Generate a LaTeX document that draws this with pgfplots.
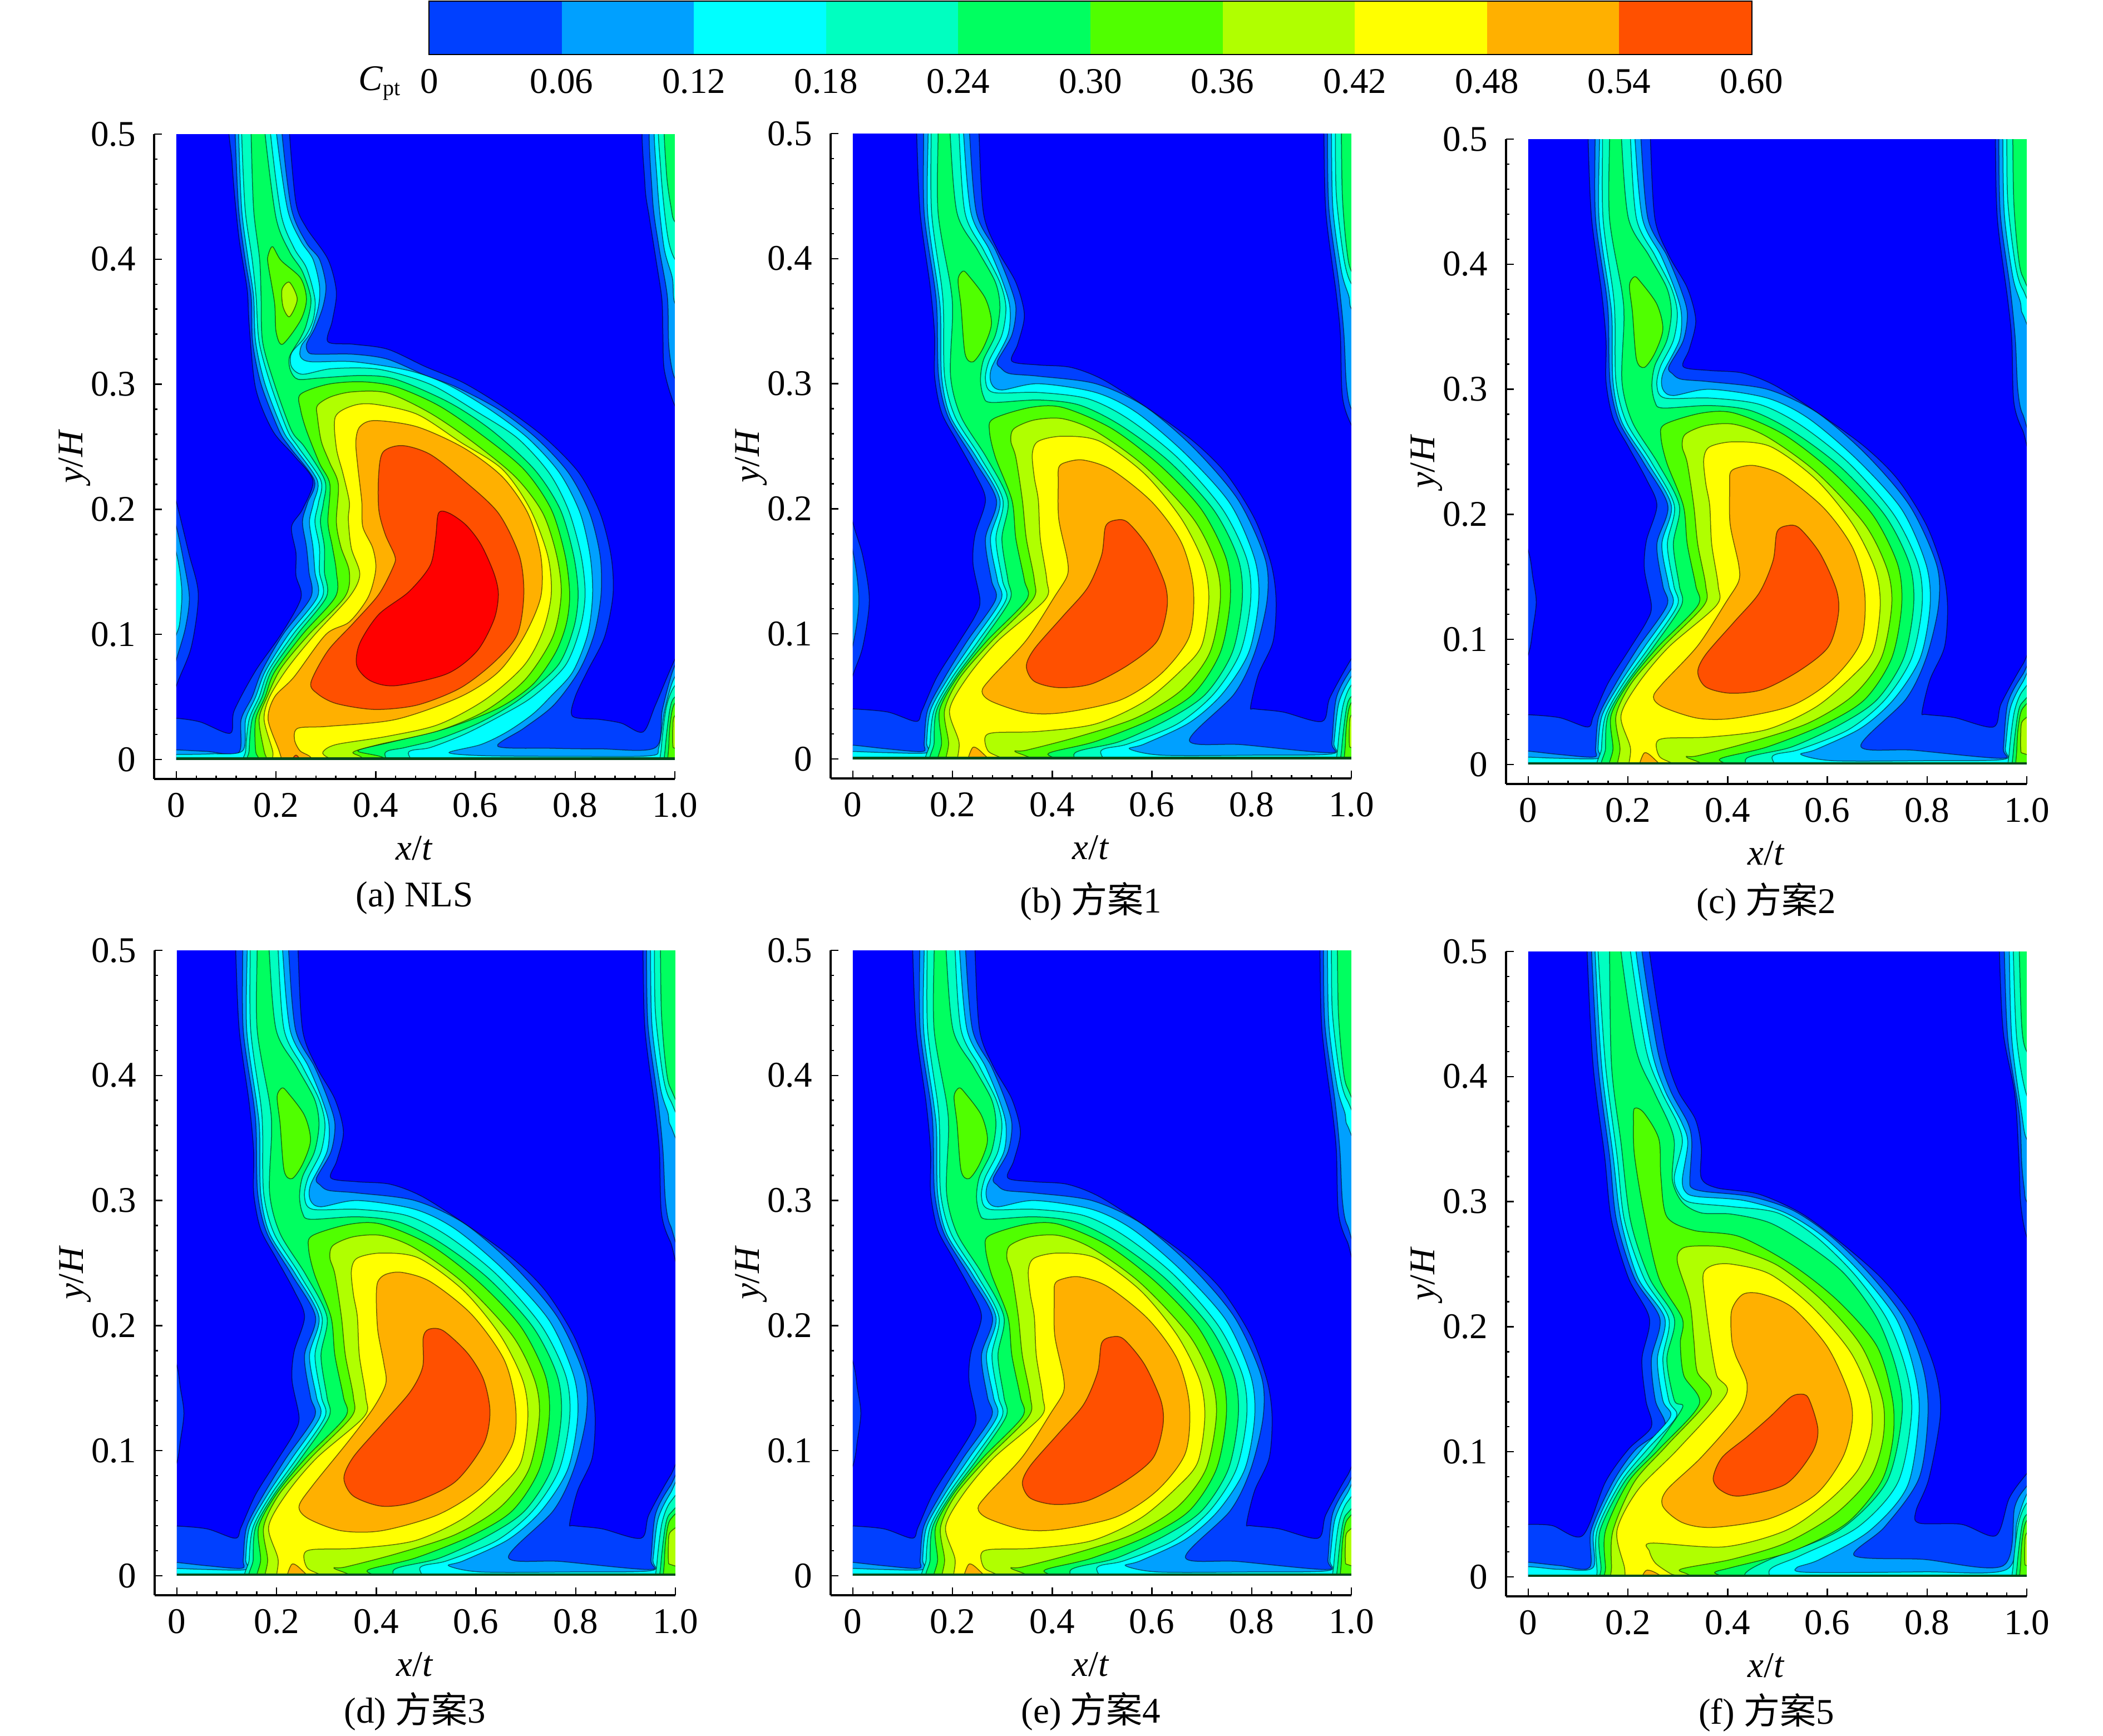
\documentclass[border=0pt]{standalone}
\usepackage{fontspec}
\usepackage{pgfplots}
\pgfplotsset{compat=1.18}
\setmainfont{Liberation Serif}
\newfontfamily\cjk{Noto Sans CJK SC}
\newcommand\fz{\fontsize{13}{15}\selectfont}
\definecolor{bg}{HTML}{0000FF}
\definecolor{c0}{HTML}{0040FF}
\definecolor{c1}{HTML}{00A0FF}
\definecolor{c2}{HTML}{00FFFF}
\definecolor{c3}{HTML}{00FFC0}
\definecolor{c4}{HTML}{00FF60}
\definecolor{c5}{HTML}{50FF00}
\definecolor{c6}{HTML}{B0FF00}
\definecolor{c7}{HTML}{FFFF00}
\definecolor{c8}{HTML}{FFB000}
\definecolor{c9}{HTML}{FF5000}
\definecolor{c10}{HTML}{FF0000}
\definecolor{wall}{HTML}{064A1C}
\pgfplotsset{lv/.style={fill=#1,draw=black,draw opacity=.55,line width=.3pt,smooth cycle,tension=.5,mark=none}}
\newcommand\poly[2]{\addplot[lv=#1] coordinates {#2};}
% ---- lobes at the right edge, near the wall
\newcommand\rlobes{%
\poly{c3}{(1.03,.065)(1,.059)(.983,.042)(.973,.01)(.973,-.01)(1.03,-.01)}
\poly{c4}{(1.03,.055)(1,.05)(.99,.04)(.981,.01)(.981,-.01)(1.03,-.01)}
\poly{c5}{(1.03,.05)(1,.045)(.991,.03)(.988,.012)(.988,-.01)(1.03,-.01)}
\poly{c6}{(1.03,.04)(1,.035)(.996,.025)(.996,.012)(1,.009)(1.03,.009)}
}
\newcommand\strip{\addplot[fill=wall,draw=none,sharp plot] coordinates {(-.03,-.03)(1.03,-.03)(1.03,.0018)(-.03,.0018)} --cycle;}
% ---- panel (a)
\newcommand\layersA{%
\poly{c0}{(.112,.52)(.112,.476)(.125,.419)(.142,.376)(.146,.348)(.159,.297)(.193,.263)(.236,.243)(.274,.223)(.253,.20)(.231,.186)(.24,.165)(.24,.147)(.25,.129)(.21,.10)(.159,.071)(.116,.039)(.108,.021)(.048,.030)(0,.033)(-.03,.033)(-.03,-.03)(.35,-.03)(.7,-.03)(1.03,-.03)(1.03,.10)(1,.08)(.961,.0435)(.936,.022)(.893,.029)(.85,.032)(.795,.0345)(.80,.05)(.825,.071)(.859,.098)(.876,.132)(.872,.163)(.85,.197)(.808,.229)(.74,.257)(.663,.28)(.577,.301)(.50,.314)(.424,.328)(.355,.332)(.304,.334)(.313,.351)(.321,.374)(.304,.40)(.261,.425)(.24,.445)(.227,.50)(.227,.52)}
\poly{c0}{(1.03,.52)(.94,.52)(.94,.46)(.949,.433)(.962,.40)(.974,.368)(.976,.34)(.979,.311)(1.0,.283)(1.03,.27)}
\poly{c0}{(-.03,.25)(0,.206)(.025,.165)(.044,.132)(.03,.09)(0,.059)(-.03,.02)}
\poly{c1}{(.118,.52)(.118,.5)(.125,.44)(.138,.40)(.15,.37)(.153,.334)(.17,.30)(.206,.263)(.227,.25)(.277,.223)(.263,.205)(.253,.19)(.261,.17)(.266,.15)(.27,.13)(.214,.10)(.172,.071)(.152,.05)(.13,.032)(.125,.0055)(.06,.0065)(0,.0077)(-.03,.0077)(-.03,-.03)(.35,-.03)(.7,-.03)(1.03,-.03)(1.03,.085)(1,.075)(.975,.04)(.961,.0095)(.85,.0085)(.75,.009)(.645,.0105)(.697,.025)(.757,.0435)(.808,.071)(.838,.10)(.852,.132)(.85,.163)(.829,.197)(.787,.229)(.722,.257)(.646,.28)(.56,.298)(.50,.307)(.424,.32)(.355,.324)(.287,.324)(.266,.325)(.261,.332)(.278,.345)(.294,.362)(.30,.379)(.287,.40)(.261,.413)(.231,.44)(.212,.5)(.212,.52)}
\poly{c1}{(1.03,.52)(.953,.52)(.955,.45)(.968,.41)(.985,.37)(.988,.33)(1.0,.305)(1.03,.30)}
\poly{c1}{(-.03,.23)(0,.186)(.014,.16)(.026,.13)(.018,.105)(0,.08)(-.03,.04)}
\poly{c2}{(.125,.52)(.125,.5)(.131,.44)(.144,.40)(.155,.37)(.159,.334)(.178,.30)(.214,.263)(.236,.25)(.283,.223)(.275,.205)(.267,.19)(.274,.17)(.278,.15)(.283,.13)(.225,.10)(.179,.071)(.159,.05)(.139,.032)(.133,.007)(.07,.0045)(0,.004)(-.03,.004)(-.03,-.03)(.35,-.03)(.7,-.03)(1.03,-.03)(1.03,.07)(1,.066)(.98,.04)(.968,.01)(.95,.003)(.8,.0025)(.62,.003)(.547,.0055)(.611,.012)(.663,.022)(.714,.036)(.75,.05)(.795,.07)(.825,.10)(.835,.132)(.83,.163)(.81,.197)(.769,.229)(.705,.257)(.628,.28)(.543,.30)(.466,.311)(.355,.318)(.27,.318)(.249,.322)(.251,.331)(.27,.342)(.285,.362)(.287,.379)(.274,.40)(.249,.415)(.223,.44)(.201,.5)(.201,.52)}
\poly{c2}{(1.03,.52)(.962,.52)(.965,.46)(.978,.41)(.995,.385)(1.0,.365)(1.03,.36)}
\poly{c2}{(-.03,.2)(0,.165)(.011,.135)(.007,.11)(0,.10)(-.03,.07)}
\poly{c3}{(.131,.52)(.131,.5)(.138,.44)(.152,.40)(.16,.37)(.166,.334)(.189,.30)(.223,.263)(.244,.25)(.29,.223)(.285,.205)(.278,.19)(.287,.17)(.287,.15)(.293,.13)(.234,.10)(.185,.071)(.166,.05)(.146,.032)(.139,.007)(.14,-.01)(.3,-.03)(.466,-.01)(.466,.006)(.509,.0095)(.577,.02)(.646,.034)(.714,.05)(.78,.075)(.81,.105)(.82,.132)(.812,.163)(.787,.199)(.748,.229)(.684,.257)(.603,.278)(.509,.30)(.406,.312)(.3125,.3125)(.253,.308)(.231,.314)(.231,.325)(.257,.337)(.274,.351)(.278,.368)(.261,.393)(.236,.409)(.21,.436)(.189,.5)(.189,.52)}
\poly{c3}{(1.03,.52)(.97,.52)(.972,.47)(.985,.42)(1.0,.40)(1.03,.39)}
\poly{c4}{(.15,.52)(.15,.5)(.155,.44)(.167,.40)(.17,.37)(.173,.334)(.197,.30)(.231,.263)(.257,.25)(.298,.223)(.295,.205)(.289,.19)(.297,.17)(.297,.15)(.301,.13)(.2425,.10)(.191,.071)(.172,.05)(.152,.032)(.146,.007)(.148,-.01)(.3,-.03)(.419,-.01)(.419,.0055)(.458,.0095)(.526,.0163)(.611,.03)(.688,.048)(.765,.075)(.797,.105)(.806,.132)(.797,.163)(.77,.20)(.718,.232)(.633,.263)(.547,.2855)(.44,.304)(.372,.307)(.287,.305)(.244,.304)(.229,.311)(.227,.322)(.249,.337)(.261,.348)(.27,.368)(.253,.39)(.227,.406)(.2,.433)(.178,.5)(.178,.52)}
\poly{c4}{(1.03,.52)(.981,.52)(.983,.47)(.993,.44)(1.0,.43)(1.03,.42)}
\poly{c5}{(.249,.292)(.304,.30)(.372,.302)(.44,.298)(.526,.283)(.611,.26)(.697,.232)(.752,.20)(.78,.163)(.789,.132)(.782,.108)(.76,.085)(.715,.06)(.646,.041)(.543,.025)(.432,.014)(.364,.007)(.415,.0016)(.45,-.01)(.3,-.02)(.17,-.02)(.167,-.001)(.159,.007)(.159,.032)(.178,.05)(.197,.07)(.253,.10)(.319,.13)(.321,.15)(.313,.17)(.304,.19)(.308,.22)(.287,.237)(.261,.263)(.249,.28)}
\poly{c5}{(.193,.41)(.21,.399)(.249,.385)(.261,.368)(.249,.351)(.213,.332)(.20,.342)(.197,.365)(.184,.396)(.184,.403)}
\poly{c6}{(.283,.283)(.31,.29)(.355,.294)(.424,.293)(.509,.277)(.594,.254)(.68,.226)(.735,.197)(.763,.163)(.772,.132)(.755,.098)(.70,.064)(.62,.039)(.526,.023)(.406,.012)(.355,.006)(.372,.0016)(.40,-.01)(.3,-.02)(.182,-.02)(.182,-.001)(.176,.007)(.166,.032)(.182,.05)(.21,.073)(.266,.10)(.338,.13)(.347,.15)(.33,.17)(.321,.19)(.325,.22)(.308,.237)(.291,.254)(.283,.274)}
\poly{c6}{(.227,.3815)(.2425,.368)(.227,.354)(.214,.362)(.212,.376)}
\poly{c7}{(.319,.274)(.355,.283)(.398,.284)(.483,.276)(.569,.254)(.654,.232)(.71,.20)(.745,.163)(.752,.132)(.735,.1025)(.697,.075)(.62,.048)(.526,.028)(.424,.0186)(.321,.012)(.294,.006)(.304,.0016)(.338,-.002)(.338,-.02)(.2,-.02)(.193,-.001)(.193,.007)(.176,.032)(.187,.05)(.223,.073)(.278,.10)(.347,.13)(.368,.148)(.351,.169)(.345,.192)(.347,.206)(.334,.229)(.321,.249)}
\poly{c8}{(.483,.266)(.577,.249)(.654,.226)(.705,.197)(.731,.163)(.731,.13)(.697,.098)(.646,.07)(.569,.05)(.44,.032)(.304,.0265)(.244,.025)(.237,.016)(.248,.007)(.27,.0016)(.28,-.01)(.25,-.02)(.21,-.01)(.214,-.005)(.206,.007)(.184,.032)(.197,.05)(.236,.066)(.30,.10)(.347,.11)(.385,.13)(.40,.152)(.394,.169)(.374,.186)(.372,.206)(.364,.234)(.36,.254)(.368,.266)(.398,.271)}
\poly{c9}{(.453,.251)(.509,.244)(.577,.223)(.646,.197)(.688,.163)(.697,.132)(.684,.10)(.637,.0776)(.569,.057)(.483,.0435)(.398,.04)(.321,.0447)(.283,.0526)(.27,.0617)(.304,.087)(.355,.109)(.406,.132)(.436,.155)(.438,.163)(.419,.18)(.406,.20)(.406,.229)(.415,.246)}
\poly{c9}{(.222,-.01)(.24,.0035)(.26,-.01)}
\poly{c10}{(.526,.197)(.547,.197)(.581,.1875)(.611,.172)(.637,.149)(.646,.132)(.637,.1116)(.603,.0866)(.543,.0685)(.44,.059)(.389,.063)(.362,.075)(.368,.093)(.406,.116)(.466,.134)(.509,.155)(.52,.177)}
\rlobes\strip}
% ---- outer contours shared by panels (b)-(e)
\newcommand\layersB{%
\poly{c0}{(.128,.52)(.128,.5)(.135,.4365)(.155,.378)(.164,.339)(.164,.306)(.178,.277)(.209,.254)(.245,.228)(.266,.207)(.245,.179)(.241,.156)(.255,.127)(.245,.114)(.209,.091)(.168,.065)(.139,.039)(.127,.03)(.07,.0375)(0,.04)(-.03,.04)(-.03,-.03)(.35,-.03)(.7,-.03)(1.03,-.03)(1.03,.095)(1,.08)(.957,.049)(.941,.03)(.863,.0375)(.806,.04)(.798,.042)(.814,.068)(.843,.094)(.849,.127)(.839,.156)(.806,.192)(.749,.228)(.683,.254)(.593,.28)(.503,.303)(.438,.313)(.372,.315)(.319,.318)(.331,.332)(.344,.355)(.327,.381)(.29,.407)(.262,.4365)(.253,.50)(.253,.52)}
\poly{c0}{(1.03,.52)(.945,.52)(.945,.5)(.949,.4365)(.97,.371)(.978,.339)(.982,.29)(1,.267)(1.03,.25)}
\poly{c1}{(.142,.52)(.142,.5)(.143,.4365)(.164,.378)(.169,.355)(.172,.306)(.191,.2736)(.24,.241)(.288,.207)(.266,.176)(.278,.143)(.286,.127)(.229,.094)(.184,.065)(.15,.039)(.143,.013)(.14,.006)(.07,.008)(0,.011)(-.03,.011)(-.03,-.03)(.35,-.03)(.7,-.03)(1.03,-.03)(1.03,.085)(1,.072)(.97,.049)(.961,.013)(.957,.005)(.781,.0114)(.675,.0147)(.765,.052)(.806,.085)(.831,.127)(.827,.16)(.773,.207)(.683,.249)(.585,.282)(.487,.30)(.372,.306)(.315,.308)(.297,.3125)(.29,.318)(.319,.339)(.327,.361)(.313,.381)(.286,.407)(.248,.4365)(.234,.5)(.234,.52)}
\poly{c1}{(1.03,.52)(.952,.52)(.952,.5)(.955,.44)(.975,.38)(.985,.34)(.99,.30)(1,.28)(1.03,.27)}
\poly{c2}{(.151,.52)(.151,.5)(.15,.4365)(.17,.378)(.176,.355)(.178,.306)(.196,.2736)(.248,.241)(.295,.207)(.276,.176)(.29,.143)(.297,.127)(.241,.094)(.192,.065)(.156,.039)(.148,.013)(.15,.005)(.07,.005)(0,.006)(-.03,.006)(-.03,-.03)(.35,-.03)(.7,-.03)(1.03,-.03)(1.03,.08)(1,.066)(.975,.045)(.965,.013)(.96,.004)(.8,.003)(.62,.003)(.555,.008)(.585,.012)(.675,.029)(.741,.052)(.794,.085)(.814,.127)(.806,.16)(.757,.204)(.667,.244)(.569,.277)(.487,.293)(.372,.30)(.299,.295)(.278,.30)(.278,.3125)(.311,.339)(.315,.361)(.301,.381)(.274,.407)(.237,.4365)(.222,.5)(.222,.52)}
\poly{c2}{(1.03,.52)(.96,.52)(.96,.5)(.963,.44)(.98,.39)(.995,.37)(1,.36)(1.03,.35)}
\poly{c3}{(.157,.52)(.157,.5)(.158,.4365)(.178,.378)(.182,.355)(.184,.306)(.205,.2736)(.256,.241)(.301,.207)(.287,.176)(.3,.143)(.307,.127)(.251,.094)(.199,.065)(.163,.039)(.155,.013)(.157,-.01)(.35,-.03)(.5,-.01)(.498,.0067)(.552,.012)(.651,.028)(.724,.052)(.777,.085)(.798,.127)(.79,.16)(.741,.2)(.651,.241)(.552,.272)(.471,.288)(.372,.293)(.282,.293)(.266,.303)(.273,.318)(.299,.339)(.307,.361)(.295,.381)(.262,.407)(.225,.4365)(.213,.5)(.213,.52)}
\poly{c3}{(1.03,.52)(.968,.52)(.968,.5)(.97,.45)(.985,.40)(1,.38)(1.03,.37)}
\poly{c4}{(.171,.52)(.171,.5)(.171,.4365)(.196,.378)(.2,.355)(.196,.306)(.217,.2736)(.268,.241)(.311,.207)(.299,.176)(.311,.143)(.315,.127)(.259,.094)(.205,.065)(.168,.039)(.163,.013)(.165,-.01)(.35,-.03)(.45,-.01)(.446,.005)(.536,.014)(.634,.032)(.708,.052)(.761,.085)(.781,.127)(.773,.16)(.724,.199)(.634,.238)(.536,.267)(.454,.283)(.372,.287)(.278,.285)(.262,.29)(.256,.303)(.262,.319)(.286,.339)(.295,.361)(.286,.381)(.25,.407)(.209,.4365)(.195,.5)(.195,.52)}
\poly{c4}{(1.03,.52)(.98,.52)(.98,.5)(.982,.45)(.99,.41)(1,.39)(1.03,.38)}
\poly{c5}{(.274,.262)(.282,.272)(.356,.281)(.421,.281)(.52,.264)(.618,.234)(.70,.199)(.749,.16)(.757,.127)(.737,.085)(.683,.052)(.601,.032)(.487,.014)(.393,.0046)(.409,-.003)(.3,-.02)(.175,-.01)(.178,.013)(.174,.039)(.209,.065)(.268,.094)(.348,.127)(.344,.143)(.327,.176)(.319,.207)(.286,.241)}
\poly{c5}{(.221,.39)(.233,.386)(.266,.368)(.278,.348)(.262,.329)(.241,.3175)(.225,.324)(.217,.3615)(.211,.383)}
\poly{c6}{(.317,.254)(.323,.264)(.364,.271)(.421,.272)(.487,.262)(.585,.234)(.683,.192)(.728,.156)(.737,.127)(.716,.085)(.659,.055)(.569,.033)(.454,.018)(.348,.007)(.325,.006)(.364,-.003)(.28,-.02)(.19,-.01)(.192,.013)(.184,.039)(.215,.065)(.278,.094)(.36,.127)(.364,.143)(.348,.176)(.34,.207)(.327,.241)}
\poly{c7}{(.36,.244)(.372,.254)(.421,.258)(.495,.254)(.585,.228)(.659,.192)(.704,.156)(.714,.127)(.70,.091)(.659,.071)(.585,.046)(.487,.028)(.372,.022)(.283,.021)(.265,.017)(.272,.006)(.307,-.003)(.26,-.02)(.21,-.01)(.213,.013)(.194,.039)(.229,.065)(.29,.094)(.385,.127)(.389,.143)(.376,.176)(.372,.207)(.364,.225)}
}
\newcommand\botriangle{\poly{c8}{(.23,-.01)(.24,.009)(.262,.004)(.29,-.01)}}
\newcommand\innerB{%
\poly{c8}{(.413,.233)(.426,.237)(.462,.239)(.52,.231)(.601,.205)(.659,.173)(.683,.137)(.675,.098)(.618,.068)(.536,.047)(.421,.037)(.348,.037)(.278,.046)(.259,.054)(.278,.065)(.348,.095)(.405,.13)(.43,.1465)(.43,.16)(.413,.192)(.412,.221)}
\botriangle
\poly{c9}{(.528,.191)(.552,.189)(.593,.169)(.626,.14)(.63,.12)(.61,.094)(.552,.075)(.479,.06)(.413,.057)(.364,.062)(.348,.074)(.364,.088)(.421,.114)(.471,.137)(.499,.163)(.507,.186)}
}
\newcommand\innerD{%
\poly{c8}{(.413,.235)(.429,.241)(.462,.2425)(.519,.235)(.601,.209)(.666,.173)(.689,.137)(.683,.105)(.625,.072)(.535,.049)(.421,.036)(.339,.036)(.273,.0458)(.255,.0556)(.282,.072)(.355,.108)(.404,.134)(.429,.1536)(.425,.17)(.413,.196)(.41,.222)}
\botriangle
\poly{c9}{(.515,.197)(.544,.196)(.593,.178)(.625,.157)(.638,.131)(.625,.105)(.568,.075)(.486,.059)(.421,.0556)(.364,.0637)(.345,.078)(.364,.095)(.421,.121)(.478,.147)(.503,.167)(.504,.19)}
}
\newcommand\lobeB{\poly{c0}{(-.03,.24)(0,.189)(.02,.162)(.033,.127)(.02,.09)(0,.067)(-.03,.03)}\poly{c1}{(-.03,.21)(0,.166)(.012,.127)(0,.091)(-.03,.05)}}
\newcommand\lobeC{\poly{c0}{(-.03,.215)(.008,.171)(.017,.15)(.024,.13)(.017,.108)(.008,.088)(-.03,.05)}}
% ---- panel (f)
\newcommand\layersF{%
\poly{c0}{(.118,.52)(.118,.5)(.13,.409)(.153,.337)(.167,.285)(.201,.239)(.243,.2065)(.228,.174)(.236,.141)(.247,.12)(.201,.102)(.155,.076)(.109,.033)(.048,.041)(0,.042)(-.03,.042)(-.03,-.03)(.35,-.03)(.7,-.03)(1.03,-.03)(1.03,.095)(1,.0825)(.965,.063)(.938,.033)(.869,.042)(.784,.043)(.778,.053)(.804,.079)(.827,.131)(.815,.167)(.773,.2065)(.708,.239)(.623,.2685)(.546,.291)(.462,.306)(.378,.311)(.347,.319)(.347,.3436)(.335,.366)(.30,.389)(.274,.422)(.243,.5)(.243,.52)}
\poly{c0}{(1.03,.52)(.945,.52)(.945,.5)(.953,.435)(.976,.386)(.984,.337)(.988,.298)(1,.272)(1.03,.25)}
\poly{c1}{(.127,.52)(.127,.5)(.14,.409)(.163,.337)(.177,.285)(.213,.239)(.264,.2065)(.247,.174)(.255,.141)(.274,.12)(.216,.102)(.17,.076)(.126,.037)(.123,.0075)(.063,.009)(0,.0117)(-.03,.012)(-.03,-.03)(.35,-.03)(.7,-.03)(1.03,-.03)(1.03,.085)(1,.0725)(.976,.056)(.953,.009)(.792,.014)(.654,.017)(.715,.04)(.784,.079)(.802,.131)(.792,.167)(.754,.2065)(.685,.242)(.608,.272)(.531,.293)(.447,.304)(.355,.308)(.328,.311)(.324,.3175)(.328,.347)(.32,.363)(.285,.389)(.259,.422)(.228,.5)(.228,.52)}
\poly{c1}{(1.03,.52)(.955,.52)(.955,.5)(.962,.43)(.985,.37)(.99,.33)(.995,.31)(1,.30)(1.03,.29)}
\poly{c2}{(.134,.52)(.134,.5)(.147,.409)(.17,.337)(.186,.285)(.22,.239)(.274,.2065)(.259,.174)(.27,.141)(.285,.128)(.228,.102)(.178,.076)(.132,.037)(.13,.0075)(.063,.006)(-.03,.006)(-.03,-.03)(.35,-.03)(.7,-.03)(1.03,-.03)(1.03,.08)(1,.066)(.98,.043)(.96,.006)(.792,.004)(.56,.0036)(.539,.0075)(.585,.014)(.685,.037)(.761,.073)(.784,.131)(.773,.167)(.738,.2065)(.669,.242)(.592,.272)(.516,.291)(.431,.301)(.339,.304)(.316,.3075)(.309,.3175)(.32,.347)(.308,.363)(.274,.389)(.247,.422)(.216,.5)(.216,.52)}
\poly{c2}{(1.03,.52)(.965,.52)(.965,.5)(.97,.43)(.99,.37)(1,.35)(1.03,.34)}
\poly{c3}{(.14,.52)(.14,.5)(.155,.409)(.178,.337)(.193,.285)(.232,.239)(.282,.2065)(.27,.174)(.282,.141)(.297,.128)(.239,.102)(.186,.076)(.138,.037)(.138,.004)(.14,-.02)(.35,-.03)(.48,-.01)(.485,.006)(.546,.017)(.662,.04)(.742,.076)(.769,.131)(.757,.167)(.719,.2065)(.654,.242)(.577,.272)(.50,.291)(.408,.296)(.324,.2995)(.301,.3075)(.293,.32)(.309,.347)(.299,.363)(.266,.389)(.236,.422)(.205,.5)(.205,.52)}
\poly{c3}{(1.03,.52)(.973,.52)(.973,.5)(.98,.43)(1,.385)(1.03,.375)}
\poly{c4}{(.163,.52)(.163,.5)(.167,.409)(.186,.347)(.205,.285)(.243,.239)(.293,.2065)(.278,.174)(.293,.141)(.309,.135)(.251,.102)(.193,.076)(.144,.037)(.146,.0075)(.15,-.02)(.35,-.03)(.44,-.01)(.435,.0026)(.485,.014)(.623,.037)(.719,.076)(.75,.131)(.738,.167)(.70,.2065)(.635,.242)(.562,.265)(.485,.283)(.408,.29)(.347,.291)(.309,.2995)(.289,.3175)(.293,.347)(.282,.363)(.251,.389)(.216,.422)(.186,.5)(.186,.52)}
\poly{c4}{(1.03,.52)(.985,.52)(.985,.5)(.99,.44)(1,.42)(1.03,.41)}
\poly{c5}{(.213,.3745)(.232,.371)(.262,.35)(.266,.32)(.278,.288)(.332,.277)(.424,.272)(.531,.249)(.623,.22)(.70,.184)(.731,.141)(.731,.109)(.708,.076)(.639,.043)(.531,.0206)(.408,.0075)(.374,.0036)(.385,-.002)(.3,-.02)(.16,-.01)(.155,.0075)(.155,.037)(.201,.076)(.262,.102)(.343,.138)(.312,.161)(.305,.187)(.309,.2065)(.262,.239)(.232,.291)(.213,.337)(.211,.363)}
\poly{c6}{(.309,.2626)(.347,.2646)(.408,.2626)(.50,.249)(.592,.22)(.669,.184)(.711,.141)(.711,.109)(.685,.079)(.615,.05)(.516,.027)(.408,.014)(.305,.006)(.324,-.0006)(.26,-.02)(.17,-.01)(.167,.0075)(.17,.037)(.213,.076)(.278,.105)(.366,.1445)(.339,.164)(.332,.19)(.324,.22)(.299,.252)}
\poly{c7}{(.351,.242)(.37,.249)(.408,.25)(.485,.242)(.569,.216)(.646,.18)(.685,.1445)(.688,.115)(.662,.086)(.60,.06)(.516,.037)(.393,.024)(.247,.027)(.243,.0205)(.255,.011)(.285,.0026)(.309,-.002)(.26,-.02)(.2,-.01)(.193,.0075)(.178,.037)(.22,.0695)(.30,.102)(.397,.146)(.378,.161)(.366,.187)(.355,.22)}
\poly{c8}{(.408,.213)(.431,.226)(.47,.226)(.531,.215)(.60,.184)(.642,.148)(.65,.125)(.631,.0956)(.577,.066)(.485,.0467)(.37,.0395)(.309,.0434)(.27,.0564)(.278,.0695)(.347,.0956)(.424,.1315)(.439,.154)(.416,.177)(.408,.19)}
\poly{c8}{(.225,-.01)(.236,.005)(.265,.001)(.29,-.01)}
\poly{c9}{(.543,.146)(.562,.143)(.581,.118)(.569,.099)(.516,.074)(.424,.0646)(.385,.0695)(.371,.079)(.389,.0956)(.439,.112)(.485,.128)(.524,.143)}
\rlobes\strip}
% ---- panel: #1 x-pixel of x/t=0, #2 y-pixel of y/H=0, #3 contours, #4 caption,
%      #5 caption offset (pt), #6 small horizontal offset of the field
\newcommand\panel[6]{%
\begin{axis}[scale only axis,width=179.2pt,height=224.8pt,axis lines=none,
  at={({#1*0.2pt},{(3120-#2)*0.2pt})},anchor=south west,
  xmin=#6,xmax=1+#6,ymin=0,ymax=.5]
\addplot[fill=bg,draw=none,sharp plot] coordinates {(-.03,-.03)(1.03,-.03)(1.03,.53)(-.03,.53)} --cycle;
#3
\end{axis}
\begin{axis}[scale only axis,width=187.2pt,height=231.8pt,
  at={({(#1-40)*0.2pt},{(3120-#2-35)*0.2pt})},anchor=south west,
  xmin=-.04464,xmax=1,ymin=-.01557,ymax=.5,clip=false,
  axis lines=left,axis line style={-,line width=.75pt},
  tick align=inside,tick style={black,line width=.5pt},
  major tick length=2.8pt,minor tick length=1.3pt,
  xtick={0,.2,.4,.6,.8,1},xticklabels={0,0.2,0.4,0.6,0.8,1.0},
  ytick={0,.1,.2,.3,.4,.5},yticklabels={0,0.1,0.2,0.3,0.4,0.5},
  minor x tick num=4,minor y tick num=4,
  tick label style={font=\fz},label style={font=\fz},
  xticklabel style={yshift=-1.5pt},yticklabel style={xshift=-3pt},
  xlabel={\textit{x}/\textit{t}},ylabel={\textit{y}/\textit{H}},
  xlabel style={at={(axis description cs:.5,0)},anchor=center,yshift=-24.8pt},
  ylabel style={at={(axis description cs:0,.5)},anchor=center,yshift=28.6pt}]
\node[font=\fz,anchor=center] at (axis description cs:.5,0) [yshift=-#5pt] {#4};
\end{axis}}
\begin{document}
\begin{tikzpicture}
\path[use as bounding box] (0,0) rectangle (756pt,624pt);
\panel{317}{1365}{\layersA}{(a) NLS}{42.8}{0}
\panel{1533}{1364}{\layersB\innerB\lobeB\rlobes\strip}{(b) {\cjk 方案}1}{44.2}{0}
\panel{2747}{1374}{\layersB\innerB\lobeC\rlobes\strip}{(c) {\cjk 方案}2}{42.3}{.008}
\panel{318}{2832}{\layersB\innerD\lobeC\rlobes\strip}{(d) {\cjk 方案}3}{41.8}{.01}
\panel{1533}{2832}{\layersB\innerB\lobeC\rlobes\strip}{(e) {\cjk 方案}4}{41.8}{.008}
\panel{2747}{2834}{\layersF}{(f) {\cjk 方案}5}{41.8}{0}
% colour bar
\begin{axis}[scale only axis,width=475.2pt,height=18.8pt,
  at={(154.4pt,604.6pt)},anchor=south west,
  xmin=0,xmax=.6,ymin=0,ymax=1,clip=false,
  axis line style={line width=.8pt},
  xtick={0,.06,.12,.18,.24,.30,.36,.42,.48,.54,.60},
  xticklabels={0,0.06,0.12,0.18,0.24,0.30,0.36,0.42,0.48,0.54,0.60},
  ytick=\empty,xtick pos=bottom,tick align=inside,
  major tick length=3pt,tick style={black,line width=.4pt},
  tick label style={font=\fz},xticklabel style={yshift=-2pt}]
\addplot[fill=c0,draw=none,sharp plot] coordinates {(0,0)(.06,0)(.06,1)(0,1)} --cycle;
\addplot[fill=c1,draw=none,sharp plot] coordinates {(.06,0)(.12,0)(.12,1)(.06,1)} --cycle;
\addplot[fill=c2,draw=none,sharp plot] coordinates {(.12,0)(.18,0)(.18,1)(.12,1)} --cycle;
\addplot[fill=c3,draw=none,sharp plot] coordinates {(.18,0)(.24,0)(.24,1)(.18,1)} --cycle;
\addplot[fill=c4,draw=none,sharp plot] coordinates {(.24,0)(.30,0)(.30,1)(.24,1)} --cycle;
\addplot[fill=c5,draw=none,sharp plot] coordinates {(.30,0)(.36,0)(.36,1)(.30,1)} --cycle;
\addplot[fill=c6,draw=none,sharp plot] coordinates {(.36,0)(.42,0)(.42,1)(.36,1)} --cycle;
\addplot[fill=c7,draw=none,sharp plot] coordinates {(.42,0)(.48,0)(.48,1)(.42,1)} --cycle;
\addplot[fill=c8,draw=none,sharp plot] coordinates {(.48,0)(.54,0)(.54,1)(.48,1)} --cycle;
\addplot[fill=c9,draw=none,sharp plot] coordinates {(.54,0)(.60,0)(.60,1)(.54,1)} --cycle;
\node[font=\fz,anchor=center] at (axis cs:-.0225,-.56) {\textit{C}\textsubscript{\fontsize{8}{9}\selectfont pt}};
\end{axis}
\end{tikzpicture}
\end{document}
